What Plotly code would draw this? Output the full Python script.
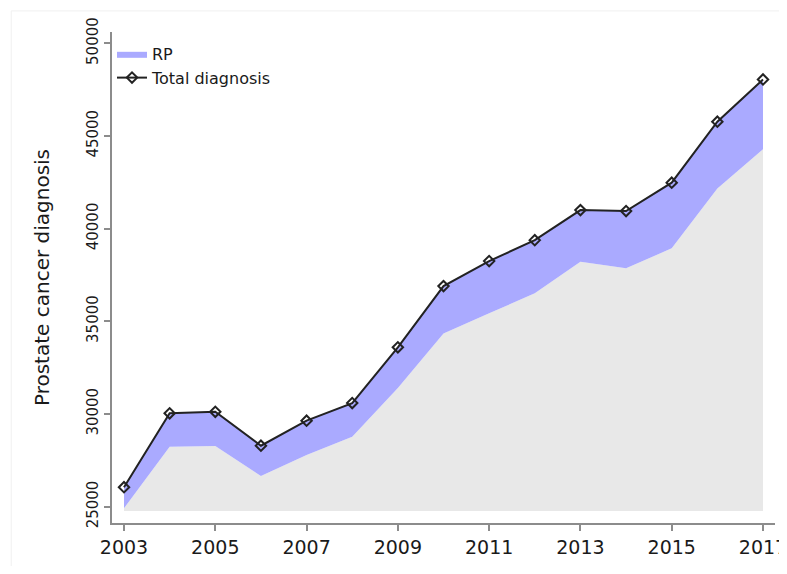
import plotly.graph_objects as go

# values
years = [2003, 2004, 2005, 2006, 2007, 2008, 2009, 2010,
         2011, 2012, 2013, 2014, 2015, 2016, 2017]
total_diagnosis = [26050, 30040, 30120, 28290, 29640, 30590, 33600, 36900,
                   38250, 39380, 41000, 40950, 42480, 45770, 48050]
without_rp = [24910, 28240, 28270, 26650, 27790, 28780, 31400, 34350,
              35430, 36510, 38220, 37860, 38940, 42170, 44280]
area_base = 24770

x_ticks = [2003, 2005, 2007, 2009, 2011, 2013, 2015, 2017]
y_ticks = [25000, 30000, 35000, 40000, 45000, 50000]

font = "DejaVu Sans"
axis_grey = "#8c8c8c"
text_col = "#1a1a1a"

fig = go.Figure()

# base of the grey area
fig.add_trace(go.Scatter(
    x=years, y=[area_base] * len(years), mode="lines",
    line=dict(width=0, color="#e8e8e8"), showlegend=False, hoverinfo="skip"
))
# grey area (diagnoses without RP)
fig.add_trace(go.Scatter(
    x=years, y=without_rp, mode="lines", fill="tonexty",
    fillcolor="#e8e8e8", line=dict(width=0, color="#e8e8e8"),
    showlegend=False
))
# blue band: RP
fig.add_trace(go.Scatter(
    x=years, y=total_diagnosis, mode="lines", fill="tonexty",
    fillcolor="#aaaaff", line=dict(width=0, color="#aaaaff"),
    name="RP"
))
# total diagnosis line
fig.add_trace(go.Scatter(
    x=years, y=total_diagnosis, mode="lines+markers",
    line=dict(color="#222222", width=2),
    marker=dict(symbol="diamond-open", size=8, color="#222222",
                line=dict(width=2, color="#222222")),
    name="Total diagnosis"
))

# the page body adds ~8px, margins below account for it
fig.update_layout(
    width=787, height=558,
    margin=dict(l=104, r=20, t=24, b=43),
    paper_bgcolor="white", plot_bgcolor="white",
    font=dict(family=font, color=text_col),
    showlegend=True,
    legend=dict(
        x=0.0, y=0.99, xanchor="left", yanchor="top",
        traceorder="normal",
        bgcolor="rgba(0,0,0,0)", font=dict(size=16, family=font, color=text_col),
        itemwidth=30, tracegroupgap=0
    ),
    xaxis=dict(
        range=[2002.737, 2017.263], tickvals=x_ticks, tickformat="d",
        showgrid=False, zeroline=False, automargin=False,
        showline=True, linecolor=axis_grey, linewidth=2,
        ticks="outside", ticklen=6, tickwidth=2, tickcolor=axis_grey,
        tickfont=dict(size=19, family=font, color=text_col)
    ),
    yaxis=dict(
        range=[24120, 50610], tickvals=y_ticks, tickformat="d",
        showgrid=False, zeroline=False, automargin=False,
        showline=True, linecolor=axis_grey, linewidth=2,
        ticks="outside", ticklen=6, tickwidth=2, tickcolor=axis_grey,
        tickangle=-90,
        tickfont=dict(size=15, family=font, color=text_col),
        title=dict(text="Prostate cancer diagnosis", standoff=29,
                   font=dict(size=20, family=font, color=text_col))
    ),
    shapes=[dict(type="rect", xref="paper", yref="paper",
                 x0=-0.152, x1=1.05, y0=-0.2, y1=1.043,
                 line=dict(color="#f0f0f0", width=1), layer="below")]
)

fig.write_html("out.html")
